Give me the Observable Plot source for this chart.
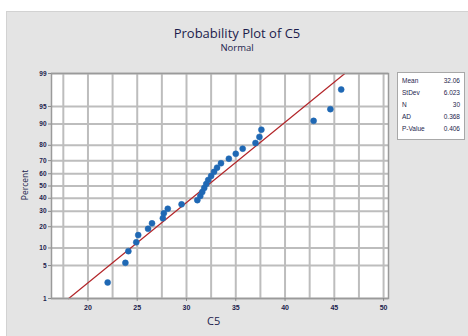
<!DOCTYPE html>
<html>
<head>
<meta charset="utf-8">
<script src="https://cdn.jsdelivr.net/npm/d3@7"></script>
<script src="https://cdn.jsdelivr.net/npm/@observablehq/plot@0.6"></script>
<style>
  html, body { margin: 0; padding: 0; background: #ffffff; }
  #wrap { position: relative; width: 468px; height: 336px; overflow: hidden; font-family: "Open Sans", "Liberation Sans", sans-serif; }
  #panel { position: absolute; left: 6px; top: 11px; width: 470px; height: 340px; background: #e4e4e4; border-top: 1px solid #d2d2d2; border-left: 1px solid #d2d2d2; }
  #chart { position: absolute; left: 0; top: 0; }
  .title { position: absolute; left: 6px; width: 462px; text-align: center; color: #1c1c4c; white-space: nowrap; }
  #legend { position: absolute; left: 397px; top: 72px; width: 66px; height: 66px; background: #fff; border: 1px solid #a8a8a8; font-size: 6.5px; line-height: 8px; color: #1c1c4c; font-family: "Liberation Sans", sans-serif; }
  #legend .row { position: absolute; left: 4px; right: 4px; display: flex; justify-content: space-between; }
  .axlab { position: absolute; color: #1c1c4c; line-height: 1; white-space: nowrap; }
</style>
</head>
<body>
<div id="wrap">
  <div id="panel"></div>
  <div id="chart"></div>
  <div class="title" style="top:27px;font-size:13px;line-height:13px;">Probability Plot of C5</div>
  <div class="title" style="top:43px;font-size:9.5px;line-height:10px;">Normal</div>
  <div id="legend"></div>
  <div class="axlab" style="left:207px;top:315px;font-size:11px;">C5</div>
  <div class="axlab" style="left:25px;top:185px;font-size:8.5px;transform:translate(-50%,-50%) rotate(-90deg);">Percent</div>
</div>
<script>
// ---- data ----
const c5Values = [22.0, 23.8, 24.1, 24.9, 25.1, 26.1, 26.5, 27.6, 27.7, 28.1,
                  29.5, 31.1, 31.4, 31.6, 31.8, 32.0, 32.2, 32.5, 32.8, 33.1,
                  33.5, 34.3, 35.0, 35.7, 37.0, 37.4, 37.6, 42.9, 44.6, 45.7];
const percentValues = [2.3, 5.6, 8.9, 12.2, 15.5, 18.8, 22.0, 25.3, 28.6, 31.9,
                       35.2, 38.5, 41.8, 45.1, 48.4, 51.6, 54.9, 58.2, 61.5, 64.8,
                       68.1, 71.4, 74.7, 78.0, 81.3, 84.5, 87.8, 91.1, 94.4, 97.7];
const percentTicks = [1, 5, 10, 20, 30, 40, 50, 60, 70, 80, 90, 95, 99];
const xTicks = [20, 25, 30, 35, 40, 45, 50];
const xGrid = [17.5, 20, 22.5, 25, 27.5, 30, 32.5, 35, 37.5, 40, 42.5, 45, 47.5, 50];
const fitPercents = [1, 99];
const statLabels = ["Mean", "StDev", "N", "AD", "P-Value"];
const statValues = ["32.06", "6.023", "30", "0.368", "0.406"];
const mean = 32.06, stdev = 6.023;

// inverse standard normal CDF (Acklam) – probability-scale transform
function probit(p) {
  const a=[-3.969683028665376e+01,2.209460984245205e+02,-2.759285104469687e+02,1.383577518672690e+02,-3.066479806614716e+01,2.506628277459239e+00];
  const b=[-5.447609879822406e+01,1.615858368580409e+02,-1.556989798598866e+02,6.680131188771972e+01,-1.328068155288572e+01];
  const c=[-7.784894002430293e-03,-3.223964580411365e-01,-2.400758277161838e+00,-2.549732539343734e+00,4.374664141464968e+00,2.938163982698783e+00];
  const d=[7.784695709041462e-03,3.224671290700398e-01,2.445134137142996e+00,3.754408661907416e+00];
  const pl=0.02425, ph=1-pl; let q, r;
  if (p < pl) { q=Math.sqrt(-2*Math.log(p)); return (((((c[0]*q+c[1])*q+c[2])*q+c[3])*q+c[4])*q+c[5])/((((d[0]*q+d[1])*q+d[2])*q+d[3])*q+1); }
  if (p <= ph) { q=p-0.5; r=q*q; return (((((a[0]*r+a[1])*r+a[2])*r+a[3])*r+a[4])*r+a[5])*q/(((((b[0]*r+b[1])*r+b[2])*r+b[3])*r+b[4])*r+1); }
  q=Math.sqrt(-2*Math.log(1-p)); return -(((((c[0]*q+c[1])*q+c[2])*q+c[3])*q+c[4])*q+c[5])/((((d[0]*q+d[1])*q+d[2])*q+d[3])*q+1);
}

const points = c5Values.map((v, i) => ({x: v, z: probit(percentValues[i] / 100)}));
const fit = fitPercents.map(p => ({x: mean + stdev * probit(p / 100), z: probit(p / 100)}));
const tickZ = percentTicks.map(p => probit(p / 100));
const tickLabel = new Map(tickZ.map((z, i) => [z, String(percentTicks[i])]));

const plot = Plot.plot({
  width: 468, height: 336,
  marginLeft: 51, marginRight: 80, marginTop: 73, marginBottom: 38,
  style: {background: "transparent", fontFamily: "Liberation Sans, sans-serif", color: "#1c1c4c"},
  x: {domain: [16.3, 50.5]},
  y: {domain: [tickZ[0], tickZ[tickZ.length - 1]]},
  marks: [
    Plot.frame({fill: "white", stroke: null}),
    Plot.ruleX(xGrid, {x: d => d, stroke: "#bdbdbd", strokeWidth: 2}),
    Plot.ruleY(tickZ, {y: d => d, stroke: "#bdbdbd", strokeWidth: 2}),
    Plot.line(fit, {x: "x", y: "z", stroke: "#b3262a", strokeWidth: 1.2}),
    Plot.dot(points, {x: "x", y: "z", r: 3, fill: "#1f68b4", stroke: "#1f68b4", strokeWidth: 0.5}),
    Plot.frame({stroke: "#9a9a9a", strokeWidth: 1.5}),
    Plot.axisY(tickZ, {tickFormat: d => tickLabel.get(d), tickSize: 3, tickPadding: 2, fontSize: 6.5, fontWeight: "bold", stroke: "#888", label: null}),
    Plot.axisX(xTicks, {tickSize: 3, tickPadding: 4, fontSize: 7, fontWeight: "bold", stroke: "#888", label: null})
  ]
});
document.getElementById("chart").appendChild(plot);

const legend = document.getElementById("legend");
statLabels.forEach((l, i) => {
  const row = document.createElement("div");
  row.className = "row";
  row.style.top = (4 + i * 12) + "px";
  row.innerHTML = `<span>${l}</span><span>${statValues[i]}</span>`;
  legend.appendChild(row);
});
</script>
</body>
</html>
